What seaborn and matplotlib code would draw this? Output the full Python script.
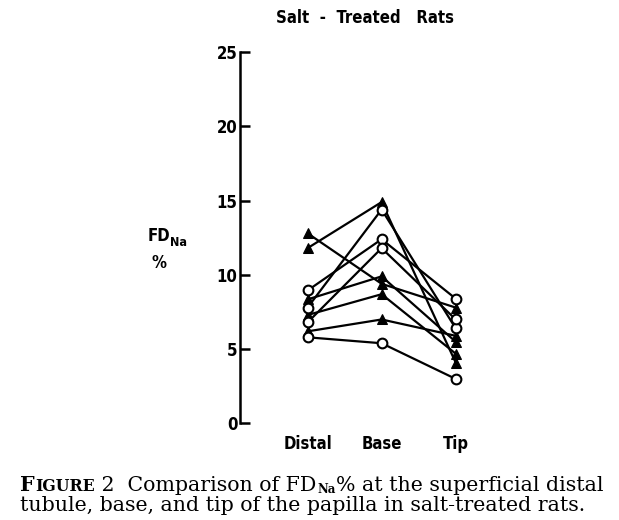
import numpy as np
import pandas as pd
import matplotlib
matplotlib.use("Agg")
import matplotlib.pyplot as plt
import seaborn as sns

# data (FD_Na %), one line per rat
sites = ["Distal", "Base", "Tip"]
circle_rats = [
    [8.95, 12.4, 8.4],
    [7.8, 14.4, 6.4],
    [6.8, 11.8, 7.0],
    [5.8, 5.4, 3.0],
]
triangle_rats = [
    [12.8, 9.4, 7.8],
    [11.8, 14.9, 4.1],
    [8.35, 9.9, 5.5],
    [7.3, 8.7, 4.7],
    [6.2, 7.0, 5.9],
]
yticks = [0, 5, 10, 15, 20, 25]

rows = []
for i, vals in enumerate(circle_rats):
    for s, v in zip(sites, vals):
        rows.append({"rat": f"c{i}", "group": "circle", "site": s, "fd": v})
for i, vals in enumerate(triangle_rats):
    for s, v in zip(sites, vals):
        rows.append({"rat": f"t{i}", "group": "triangle", "site": s, "fd": v})
df = pd.DataFrame(rows)

sns.set_style("ticks")
plt.rcParams['font.family'] = ['DejaVu Sans']
for k in ["text.color", "axes.labelcolor", "xtick.color", "ytick.color",
          "axes.edgecolor"]:
    plt.rcParams[k] = "black"

fig = plt.figure(figsize=(6.19, 5.2), dpi=100)
ax = fig.add_axes([0.388, 0.1856, 0.408, 0.7144])

# draw triangles first, circles on top
for rat, d in df[df.group == "triangle"].groupby("rat"):
    sns.lineplot(data=d, x="site", y="fd", ax=ax, color="black", lw=1.6,
                 marker="^", markersize=7, markerfacecolor="black",
                 markeredgecolor="black", sort=False, legend=False)
for rat, d in df[df.group == "circle"].groupby("rat"):
    sns.lineplot(data=d, x="site", y="fd", ax=ax, color="black", lw=1.6,
                 marker="o", markersize=7, markerfacecolor="white",
                 markeredgecolor="black", markeredgewidth=1.5, sort=False,
                 legend=False)

cond = dict(fontweight="bold", stretch="condensed")
ax.set_xlim(-0.91, 2.5)
ax.set_ylim(0, 25)
ax.set_yticks(yticks)
ax.set_yticklabels([str(t) for t in yticks], fontsize=12, **cond)
ax.tick_params(axis="y", direction="in", length=7, width=1.8, pad=2)
ax.set_xticks([0, 1, 2])
ax.set_xticklabels(sites, fontsize=12, **cond)
ax.tick_params(axis="x", length=0, pad=8)
ax.set_xlabel("")
ax.set_ylabel("")
sns.despine(ax=ax, bottom=True)
ax.spines["left"].set_linewidth(1.8)

fig.text(365 / 619, 1 - 18 / 520, "Salt  -  Treated   Rats", ha="center",
         va="center", fontsize=12, **cond)
fig.text(148 / 619, 1 - 236 / 520, "FD", ha="left", va="center",
         fontsize=12, **cond)
fig.text(170 / 619, 1 - 242 / 520, "Na", ha="left", va="center",
         fontsize=9, **cond)
fig.text(151 / 619, 1 - 263 / 520, "%", ha="left", va="center",
         fontsize=12, **cond)

# caption, placed piece by piece
fig.canvas.draw()
renderer = fig.canvas.get_renderer()
serif = ["DejaVu Serif"]

line1 = [("F", 13, "bold", 0), ("IGURE", 10, "bold", 0),
         (" 2  Comparison of FD", 13, "normal", 0),
         ("Na", 7.5, "bold", 2),
         ("% at the superficial distal", 13, "normal", 0)]
line2 = [("tubule, base, and tip of the papilla in salt-treated rats.",
          13, "normal", 0)]


def put_pieces(x_px, y_px, pieces, scale, draw=True):
    x = x_px
    for txt, size, weight, dy in pieces:
        t = fig.text(x / 619, 1 - (y_px + dy) / 520, txt, ha="left",
                     va="baseline", fontsize=size * scale, fontweight=weight,
                     family=serif, stretch="normal")
        bb = t.get_window_extent(renderer=renderer)
        x += bb.width + 0.5
        if not draw:
            t.remove()
    return x - x_px


# measure line 1 at scale 1, then fit it to the reference width
w = put_pieces(0, 0, line1, 1.0, draw=False)
scale = 583 / w

put_pieces(20, 491, line1, scale)
put_pieces(20, 511, line2, scale)

fig.savefig("out.png", dpi=100)
